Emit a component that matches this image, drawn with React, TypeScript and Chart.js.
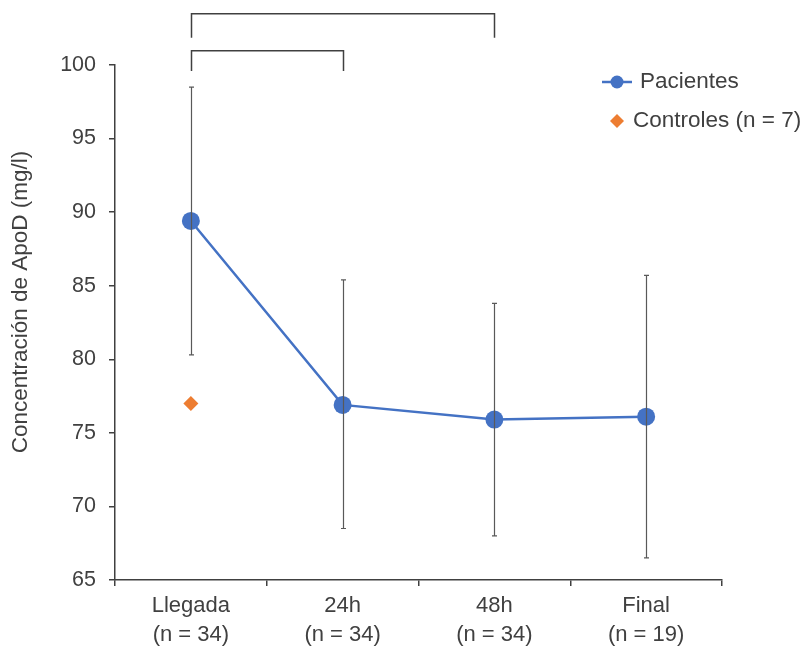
import React, { useEffect, useRef } from "react";
import { Chart, registerables } from "chart.js";

Chart.register(...registerables);

const categories: string[][] = [
  ["Llegada", "(n = 34)"],
  ["24h", "(n = 34)"],
  ["48h", "(n = 34)"],
  ["Final", "(n = 19)"],
];
const pacientes: number[] = [89.4, 76.9, 75.9, 76.1];
const errHigh: number[] = [98.5, 85.4, 83.8, 85.7];
const errLow: number[] = [80.3, 68.5, 68.0, 66.5];
const controles: (number | null)[] = [77.0, null, null, null];
// bracket: [fromIndex, toIndex, barValue, legEndValue]
const brackets: number[][] = [
  [0, 1, 100.97, 99.6],
  [0, 2, 103.48, 101.85],
];
const yTicks = { min: 65, max: 100, step: 5 };
const yTitle = "Concentración de ApoD (mg/l)";
const seriesNames = ["Pacientes", "Controles (n = 7)"];

const BLUE = "#4472C4";
const ORANGE = "#ED7D31";
const TEXT = "#404040";
const AXIS = "#404040";
const FONT = "'Liberation Sans', Arial, sans-serif";

const overlayPlugin = {
  id: "overlay",
  afterDatasetsDraw(chart: any) {
    const ctx = chart.ctx;
    const x = chart.scales.x;
    const y = chart.scales.y;
    ctx.save();
    ctx.strokeStyle = "#595959";
    ctx.lineWidth = 1.2;
    pacientes.forEach((_, i) => {
      const px = Math.round(x.getPixelForValue(i)) + 0.5;
      const top = y.getPixelForValue(errHigh[i]);
      const bot = y.getPixelForValue(errLow[i]);
      ctx.beginPath();
      ctx.moveTo(px, top);
      ctx.lineTo(px, bot);
      ctx.moveTo(px - 2.5, top);
      ctx.lineTo(px + 2.5, top);
      ctx.moveTo(px - 2.5, bot);
      ctx.lineTo(px + 2.5, bot);
      ctx.stroke();
    });
    ctx.restore();
  },
  afterDraw(chart: any) {
    const ctx = chart.ctx;
    const x = chart.scales.x;
    const y = chart.scales.y;
    ctx.save();
    // brackets
    ctx.strokeStyle = "#404040";
    ctx.lineWidth = 1.5;
    brackets.forEach(([a, b, bar, leg]) => {
      const xa = Math.round(x.getPixelForValue(a)) + 0.5;
      const xb = Math.round(x.getPixelForValue(b)) + 0.5;
      const yb = y.getPixelForValue(bar);
      const yl = y.getPixelForValue(leg);
      ctx.beginPath();
      ctx.moveTo(xa, yl);
      ctx.lineTo(xa, yb);
      ctx.lineTo(xb, yb);
      ctx.lineTo(xb, yl);
      ctx.stroke();
    });
    // y-axis title
    ctx.fillStyle = TEXT;
    ctx.font = `22.5px ${FONT}`;
    ctx.textAlign = "center";
    ctx.textBaseline = "middle";
    ctx.save();
    ctx.translate(21, 302);
    ctx.rotate(-Math.PI / 2);
    ctx.fillText(yTitle, 0, 0);
    ctx.restore();
    // legend
    const lx = 617;
    const ly1 = 82;
    const ly2 = 121;
    ctx.strokeStyle = BLUE;
    ctx.lineWidth = 2.5;
    ctx.beginPath();
    ctx.moveTo(lx - 15, ly1);
    ctx.lineTo(lx + 15, ly1);
    ctx.stroke();
    ctx.fillStyle = BLUE;
    ctx.beginPath();
    ctx.arc(lx, ly1, 6.5, 0, Math.PI * 2);
    ctx.fill();
    ctx.fillStyle = ORANGE;
    ctx.beginPath();
    ctx.moveTo(lx - 7, ly2);
    ctx.lineTo(lx, ly2 - 7);
    ctx.lineTo(lx + 7, ly2);
    ctx.lineTo(lx, ly2 + 7);
    ctx.closePath();
    ctx.fill();
    ctx.fillStyle = TEXT;
    ctx.font = `22.5px ${FONT}`;
    ctx.textBaseline = "middle";
    ctx.textAlign = "left";
    ctx.fillText(seriesNames[0], 640, ly1);
    ctx.fillText(seriesNames[1], 633, ly2);
    ctx.restore();
  },
};

export default function App() {
  const ref = useRef<HTMLCanvasElement>(null);
  useEffect(() => {
    document.body.style.margin = "0";
    const chart = new Chart(ref.current!, {
      type: "line",
      data: {
        labels: categories as any,
        datasets: [
          {
            label: seriesNames[0],
            data: pacientes,
            borderColor: BLUE,
            backgroundColor: BLUE,
            borderWidth: 2.5,
            pointRadius: 9,
            pointHoverRadius: 9,
            pointBorderWidth: 0,
            pointStyle: "circle",
          },
          {
            label: seriesNames[1],
            data: controles,
            borderColor: ORANGE,
            backgroundColor: ORANGE,
            showLine: false,
            pointRadius: 7.5,
            pointStyle: "rectRot",
            pointBorderWidth: 0,
          },
        ],
      },
      options: {
        animation: false,
        responsive: false,
        maintainAspectRatio: false,
        layout: { padding: { top: 65, right: 85, left: 0, bottom: 0 } },
        plugins: { legend: { display: false }, tooltip: { enabled: false } },
        scales: {
          x: {
            type: "category",
            offset: true,
            afterFit: (s: any) => {
              s.height = 66;
            },
            grid: {
              offset: true,
              drawOnChartArea: false,
              color: AXIS,
              tickLength: 6,
              lineWidth: 1.5,
            },
            border: { color: AXIS, width: 1.5 },
            ticks: {
              color: TEXT,
              font: { family: FONT, size: 22, lineHeight: 1.32 },
              padding: 5,
              maxRotation: 0,
            },
          },
          y: {
            min: yTicks.min,
            max: yTicks.max,
            afterFit: (s: any) => {
              s.width = 115;
            },
            grid: {
              drawOnChartArea: false,
              color: AXIS,
              tickLength: 6,
              lineWidth: 1.5,
            },
            border: { color: AXIS, width: 1.5 },
            ticks: {
              stepSize: yTicks.step,
              color: TEXT,
              font: { family: FONT, size: 21.5 },
              padding: 13,
            },
            title: { display: false },
          },
        },
      },
      plugins: [overlayPlugin],
    });
    return () => chart.destroy();
  }, []);
  return (
    <div style={{ width: 807, height: 646 }}>
      <canvas ref={ref} width={807} height={646} />
    </div>
  );
}
